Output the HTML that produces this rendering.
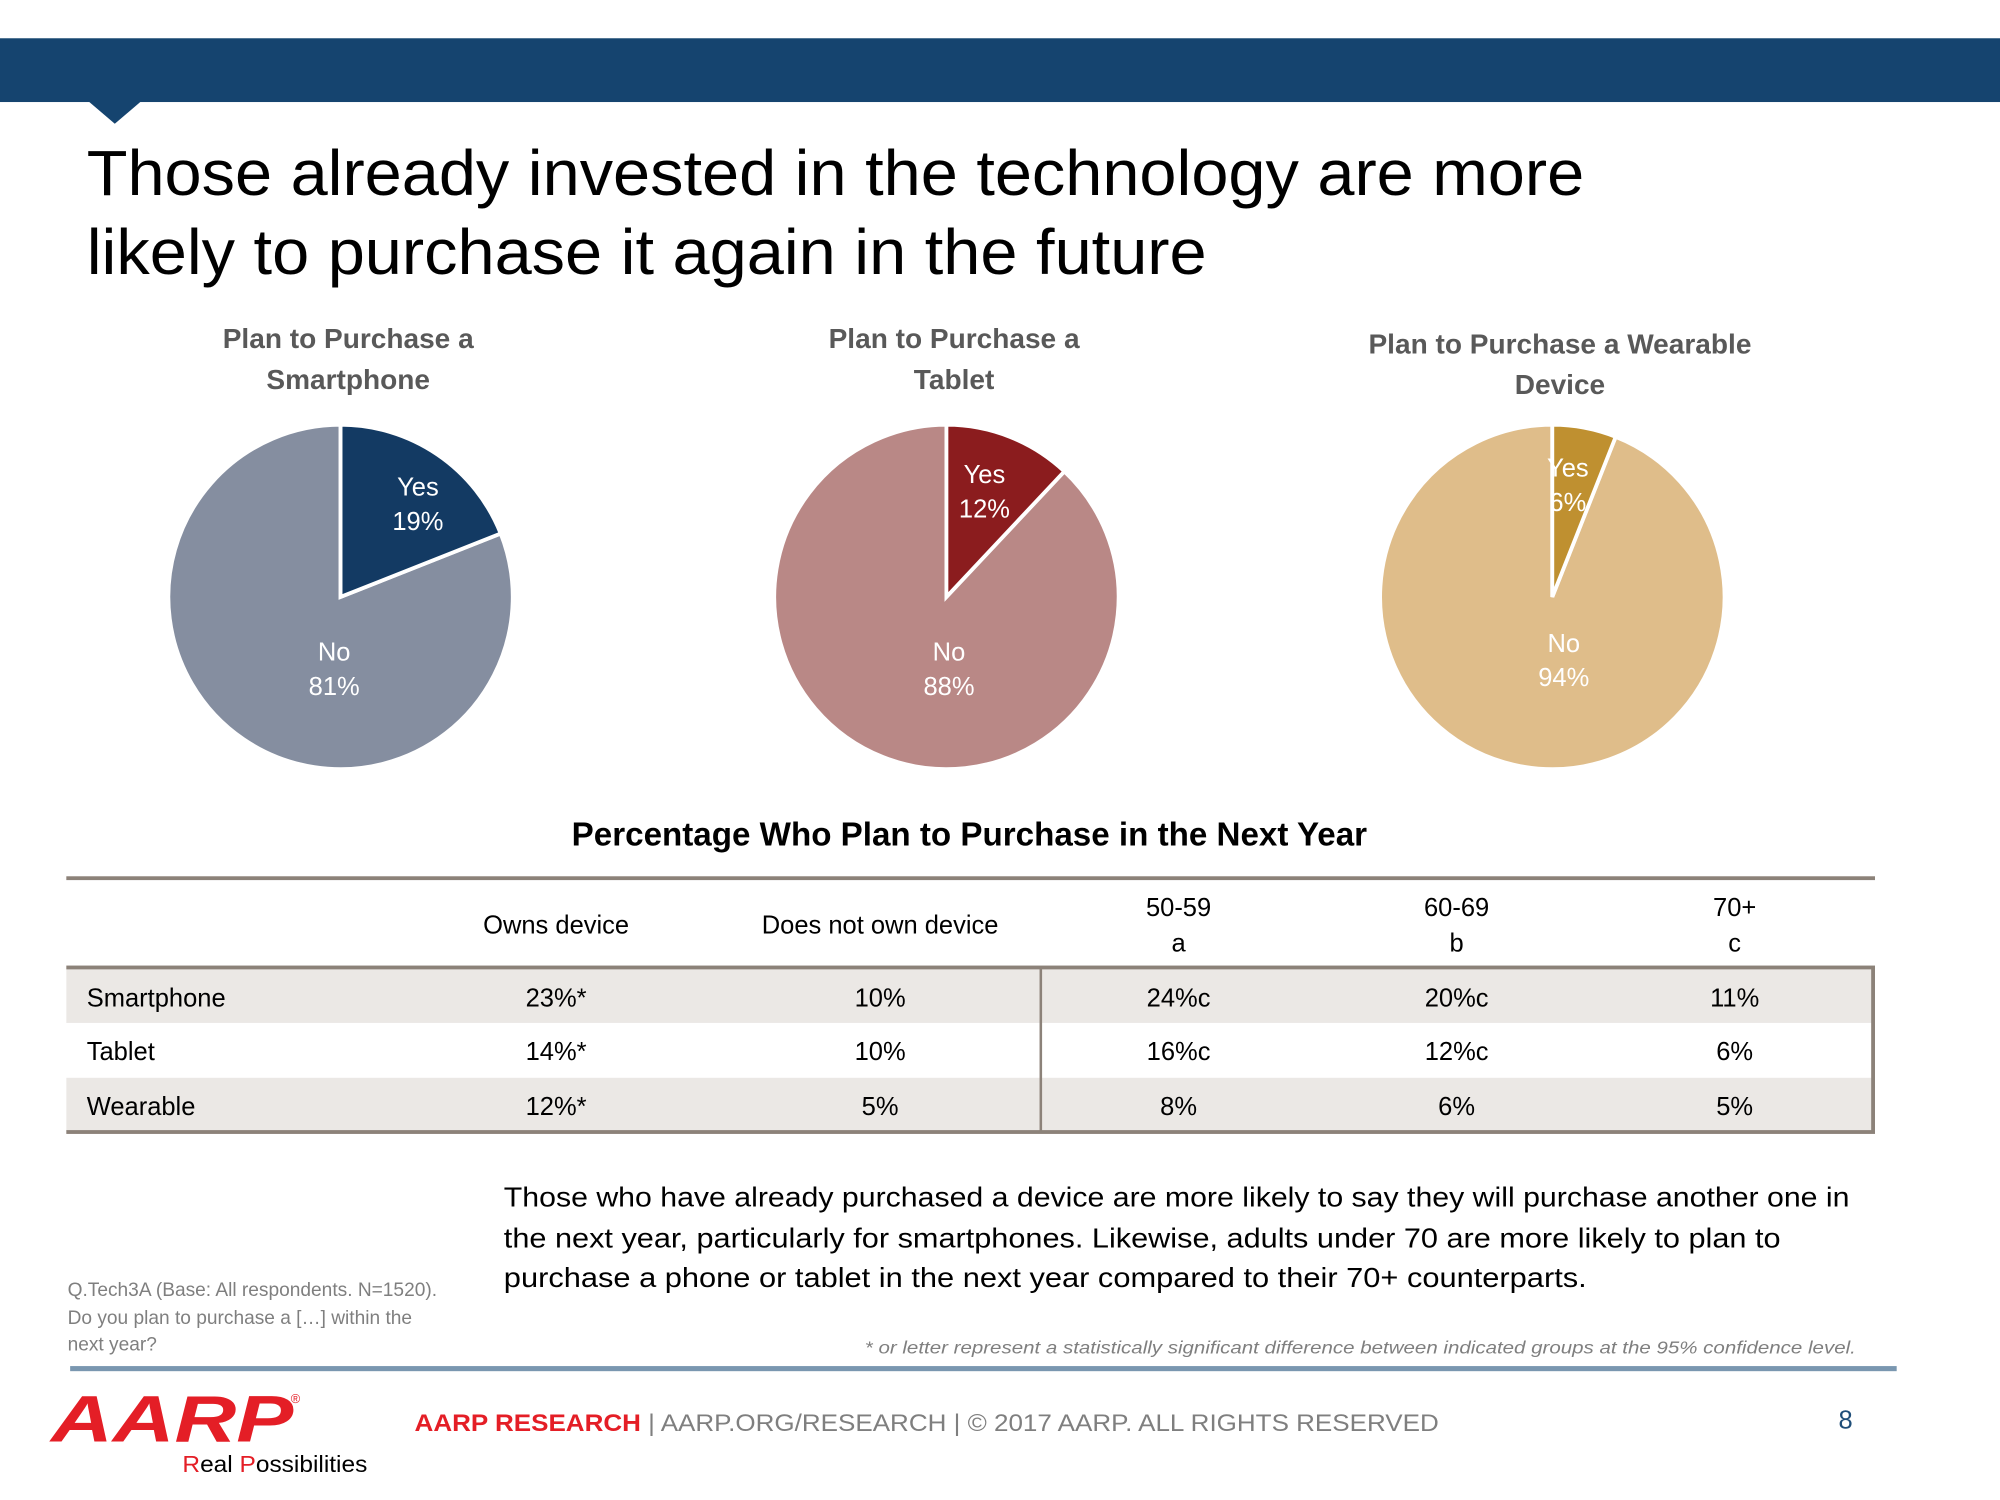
<!DOCTYPE html>
<html><head><meta charset="utf-8"><style>
html,body{margin:0;padding:0;background:#fff;}
svg{display:block;}
text{font-family:"Liberation Sans",sans-serif;}
.c{font-family:"Liberation Sans Narrow","Liberation Sans",sans-serif;}
</style></head><body>
<svg id="s" width="2000" height="1500" viewBox="0 0 1568 1176" xmlns="http://www.w3.org/2000/svg">
<rect x="0" y="30" width="1568" height="50" fill="#15446f"/>
<polygon points="70,80 110,80 90,97" fill="#15446f"/>
<text x="68" y="153" font-size="50" fill="#000" textLength="1174" lengthAdjust="spacingAndGlyphs">Those already invested in the technology are more</text>
<text x="68" y="215" font-size="50" fill="#000" textLength="878" lengthAdjust="spacingAndGlyphs">likely to purchase it again in the future</text>
<g id="pies"></g>

<text class="c" x="760" y="663" font-size="26" font-weight="bold" text-anchor="middle" fill="#000">Percentage Who Plan to Purchase in the Next Year</text>
<g id="tbl"></g>

<g class="c" font-size="22" fill="#000">
<text x="395" y="946" textLength="1055" lengthAdjust="spacingAndGlyphs">Those who have already purchased a device are more likely to say they will purchase another one in</text>
<text x="395" y="978" textLength="1001" lengthAdjust="spacingAndGlyphs">the next year, particularly for smartphones. Likewise, adults under 70 are more likely to plan to</text>
<text x="395" y="1009" textLength="849" lengthAdjust="spacingAndGlyphs">purchase a phone or tablet in the next year compared to their 70+ counterparts.</text>
</g>
<g class="c" font-size="15" fill="#7f7f7f">
<text x="53" y="1016">Q.Tech3A (Base: All respondents. N=1520).</text>
<text x="53" y="1038">Do you plan to purchase a […] within the</text>
<text x="53" y="1059">next year?</text>
</g>
<text class="c" x="678" y="1061" font-size="14" font-style="italic" fill="#7f7f7f" textLength="777" lengthAdjust="spacingAndGlyphs">* or letter represent a statistically significant difference between indicated groups at the 95% confidence level.</text>
<rect x="55" y="1071" width="1432" height="4" fill="#7a97b0"/>
<text x="40" y="1130" font-size="52" font-weight="bold" font-style="italic" fill="#e41e26" textLength="190" lengthAdjust="spacingAndGlyphs">AARP</text>
<text x="228" y="1100" font-size="10" fill="#e41e26">®</text>
<text x="143" y="1154" font-size="18" fill="#000" textLength="145" lengthAdjust="spacingAndGlyphs"><tspan fill="#e41e26">R</tspan>eal <tspan fill="#e41e26">P</tspan>ossibilities</text>
<text x="325" y="1122" font-size="19" fill="#7f7f7f" textLength="803" lengthAdjust="spacingAndGlyphs"><tspan fill="#e41e26" font-weight="bold">AARP RESEARCH</tspan>  |  AARP.ORG/RESEARCH  |  © 2017 AARP. ALL RIGHTS RESERVED</text>
<text x="1447" y="1120" font-size="20" fill="#1f4e79" text-anchor="middle">8</text>
</svg>
<script>
const pieTitles1 = ["Plan to Purchase a","Plan to Purchase a","Plan to Purchase a Wearable"];
const pieTitles2 = ["Smartphone","Tablet","Device"];
const yesValues = [19, 12, 6];
const noValues = [81, 88, 94];
const yesColors = ["#133a63","#8b1c1e","#bf9030"];
const noColors = ["#858ea0","#b98886","#dfbd8a"];
const NS="http://www.w3.org/2000/svg";
function mk(tag, attrs, parent){const e=document.createElementNS(NS,tag);for(const k in attrs)e.setAttribute(k,attrs[k]);parent.appendChild(e);return e;}
const pies=document.getElementById('pies');
const cxs=[267,742,1217], cy=468, R=135;
function pt(cx,f,r){const a=f*2*Math.PI;return [cx+r*Math.sin(a), cy-r*Math.cos(a)];}
for(let i=0;i<3;i++){
  const cx=cxs[i], tot=yesValues[i]+noValues[i], fy=yesValues[i]/tot;
  const tY=i==2?277:273;
  const t1=mk('text',{x:cx+6,y:tY,'font-size':22,'font-weight':'bold',fill:'#595959','text-anchor':'middle',class:'c'},pies);
  
  
  t1.textContent=pieTitles1[i];
  const t2=mk('text',{x:cx+6,y:tY+32,'font-size':22,'font-weight':'bold',fill:'#595959','text-anchor':'middle',class:'c'},pies);
  
  
  t2.textContent=pieTitles2[i];
  const p1=pt(cx,fy,R);
  const no=mk('path',{d:`M${cx},${cy} L${p1[0]},${p1[1]} A${R},${R} 0 ${1-fy>0.5?1:0} 1 ${cx},${cy-R} Z`,fill:noColors[i],stroke:'#fff','stroke-width':3},pies);
  
  
  const yes=mk('path',{d:`M${cx},${cy} L${cx},${cy-R} A${R},${R} 0 ${fy>0.5?1:0} 1 ${p1[0]},${p1[1]} Z`,fill:yesColors[i],stroke:'#fff','stroke-width':3},pies);
  
  
  const lp=pt(cx,fy/2,R*0.72);
  const lx=lp[0]+(i==0?6:-6);
  const ly=mk('text',{x:lx,y:lp[1]+1,'font-size':20,fill:'#fff','text-anchor':'middle',class:'c'},pies);
  
  
  ly.innerHTML=`<tspan x="${lx}">Yes</tspan><tspan x="${lx}" dy="27">${yesValues[i]}%</tspan>`;
  const nx=cx+(i==0?-5:i==1?2:9);
  const ln=mk('text',{x:nx,y:cy+(i==2?43:50),'font-size':20,fill:'#fff','text-anchor':'middle',class:'c'},pies);
  
  
  ln.innerHTML=`<tspan x="${nx}">No</tspan><tspan x="${nx}" dy="27">${noValues[i]}%</tspan>`;
}
// table
const colHeads=["Owns device","Does not own device","50-59","60-69","70+"];
const colSub=["","","a","b","c"];
const rowLabels=["Smartphone","Tablet","Wearable"];
const cells=[["23%*","10%","24%c","20%c","11%"],["14%*","10%","16%c","12%c","6%"],["12%*","5%","8%","6%","5%"]];
const tbl=document.getElementById('tbl');
const colX=[436,690,924,1142,1360];
const rowY=[760,802,845];
for(let r=0;r<3;r++){
  const bg=mk('rect',{x:52,y:rowY[r],width:1417,height:r==1?43:42,fill:r==1?'#ffffff':'#ebe8e5'},tbl);
  
  
}
mk('rect',{x:52,y:687,width:1418,height:3,fill:'#8c8279'},tbl);
mk('rect',{x:52,y:757,width:1418,height:3,fill:'#8c8279'},tbl);
mk('rect',{x:52,y:886,width:1418,height:3,fill:'#8c8279'},tbl);
mk('rect',{x:815,y:759,width:2,height:129,fill:'#8c8279'},tbl);
mk('rect',{x:1467,y:759,width:3,height:129,fill:'#8c8279'},tbl);
for(let c=0;c<5;c++){
  const h=mk('text',{x:colX[c],y:colSub[c]?718:732,'font-size':20,fill:'#000','text-anchor':'middle',class:'c'},tbl);
  
  
  h.textContent=colHeads[c];
  if(colSub[c]){const s=mk('text',{x:colX[c],y:746,'font-size':20,fill:'#000','text-anchor':'middle',class:'c'},tbl);
  
  
  s.textContent=colSub[c];}
}
for(let r=0;r<3;r++){
  const y=rowY[r]+29;
  const l=mk('text',{x:68,y:y,'font-size':20,fill:'#000',class:'c'},tbl);
  
  
  l.textContent=rowLabels[r];
  for(let c=0;c<5;c++){
    const t=mk('text',{x:colX[c],y:y,'font-size':20,fill:'#000','text-anchor':'middle',class:'c'},tbl);
    
    
    t.textContent=cells[r][c];
  }
}
</script>
</body></html>
